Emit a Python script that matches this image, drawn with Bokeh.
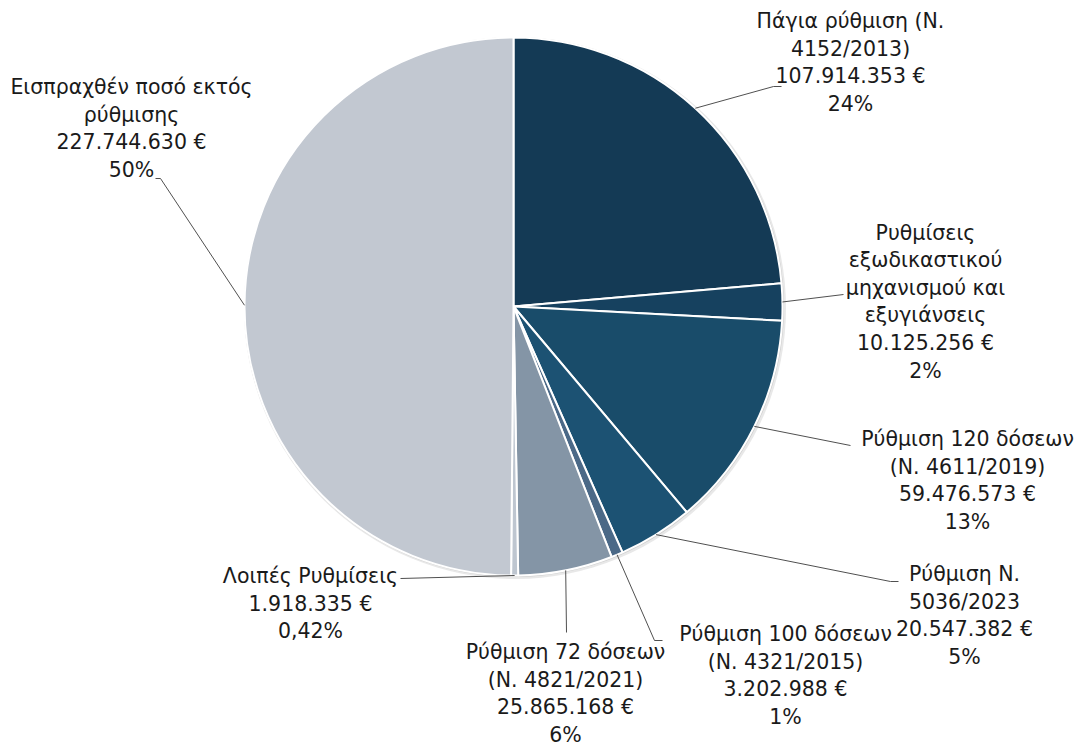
import math
from bokeh.plotting import figure
from bokeh.models import Range1d, ColumnDataSource
from bokeh.embed import file_html
from bokeh.resources import INLINE
from bokeh.core.properties import value

# ---------------- data ----------------
categories = [
    "Πάγια ρύθμιση (Ν.\n4152/2013)",
    "Ρυθμίσεις\nεξωδικαστικού\nμηχανισμού και\nεξυγιάνσεις",
    "Ρύθμιση 120 δόσεων\n(Ν. 4611/2019)",
    "Ρύθμιση Ν.\n5036/2023",
    "Ρύθμιση 100 δόσεων\n(Ν. 4321/2015)",
    "Ρύθμιση 72 δόσεων\n(Ν. 4821/2021)",
    "Λοιπές Ρυθμίσεις",
    "Εισπραχθέν ποσό εκτός\nρύθμισης",
]
amounts = [107914353, 10125256, 59476573, 20547382, 3202988, 25865168, 1918335, 227744630]
percent_labels = ["24%", "2%", "13%", "5%", "1%", "6%", "0,42%", "50%"]

# ---------------- style / layout ----------------
colors = ["#143a55", "#16415f", "#194c6a", "#1c5273", "#4b6987", "#8495a6", "#bec6d0", "#c2c8d1"]
W, H = 1087, 747
CX, CY_IMG, R = 513, 306, 269
# label block centres (image px) and leader elbow/end points (image px)
label_centres = [(850, 62), (925, 301), (967, 480), (964, 615), (785, 675), (565, 693), (310, 603), (131, 128)]
leader_elbows = [(773, 86), (843, 294), (850, 445), (890, 581), (654, 640), (566, 632), (400, 578), (160, 178)]
leader_ends = [(781, 86), (843, 294), (850, 445), (898, 581), (662, 640), (566, 632), (400, 578), (155, 178)]
LINE_STEP = 27.6

def fy(y_img):
    return H - y_img

CY = fy(CY_IMG)

p = figure(width=W, height=H, output_backend="svg", toolbar_location=None,
           x_range=Range1d(0, W), y_range=Range1d(0, H),
           min_border=0, min_border_left=0, min_border_right=0, min_border_top=0, min_border_bottom=0)
p.axis.visible = False
p.grid.visible = False
p.outline_line_color = None
p.background_fill_color = "white"
p.border_fill_color = "white"

total = float(sum(amounts))
starts, ends, mids = [], [], []
cum = 0.0
for a in amounts:
    s = math.pi / 2 - 2 * math.pi * cum / total
    cum += a
    e = math.pi / 2 - 2 * math.pi * cum / total
    starts.append(s)
    ends.append(e)
    mids.append((s + e) / 2)

# soft shadow
p.circle(x=[CX + 1.5], y=[CY - 1.5], radius=R + 2, fill_color="#bdbdbd", fill_alpha=0.35, line_color=None)
p.circle(x=[CX + 0.5], y=[CY - 0.5], radius=R + 1, fill_color="#9e9e9e", fill_alpha=0.35, line_color=None)

src = ColumnDataSource(dict(x=[CX] * len(amounts), y=[CY] * len(amounts),
                            start=ends, end=starts, color=colors))
p.wedge(x="x", y="y", radius=R, start_angle="start", end_angle="end", direction="anticlock",
        fill_color="color", line_color="white", line_width=2, source=src)

# leader lines
xs, ys = [], []
for m, el, en in zip(mids, leader_elbows, leader_ends):
    px = CX + R * math.cos(m)
    py = CY + R * math.sin(m)
    xs.append([px, el[0], en[0]])
    ys.append([py, fy(el[1]), fy(en[1])])
p.multi_line(xs=xs, ys=ys, line_color="#505050", line_width=1)

# labels
tx, ty, tt = [], [], []
for cat, amt, pct, (lx, ly) in zip(categories, amounts, percent_labels, label_centres):
    lines = cat.split("\n") + [f"{amt:,}".replace(",", ".") + " €", pct]
    n = len(lines)
    for j, line in enumerate(lines):
        tx.append(lx)
        ty.append(fy(ly + (j - (n - 1) / 2) * LINE_STEP))
        tt.append(line)
p.text(x=tx, y=ty, text=tt, text_align="center", text_baseline="middle",
       text_font=value("DejaVu Sans"), text_font_size="20.5px", text_color="#1a1a1a")

open("out.html", "w").write(file_html(p, INLINE))
